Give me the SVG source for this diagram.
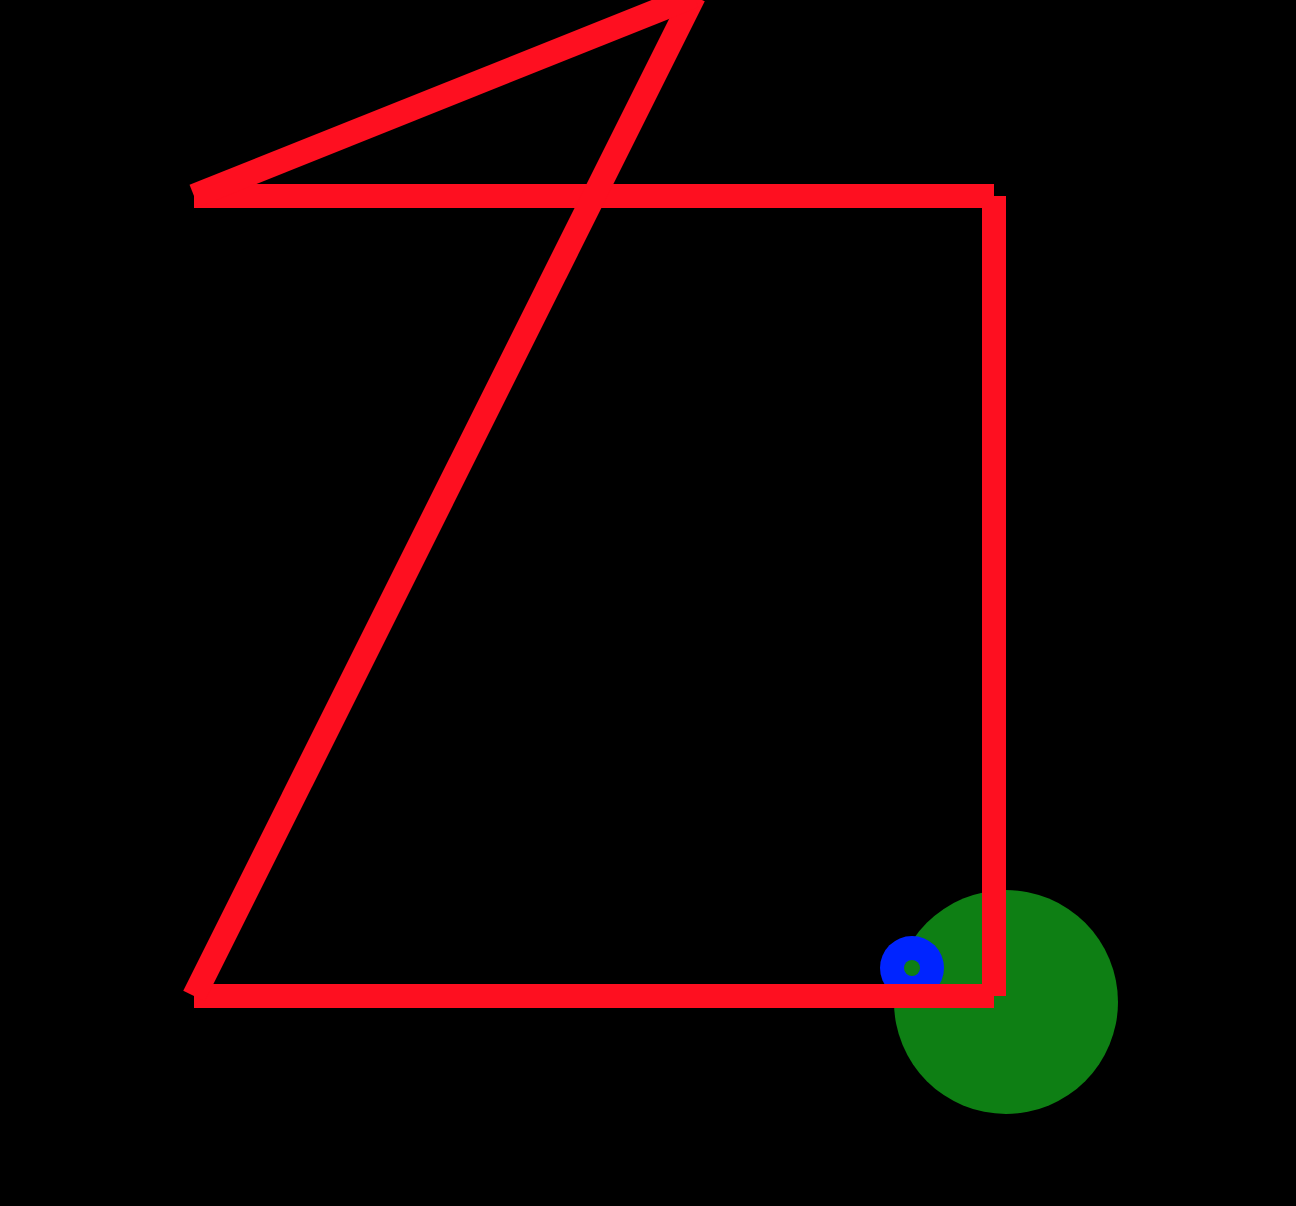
<svg xmlns="http://www.w3.org/2000/svg" width="1296" height="1206" viewBox="0 0 1296 1206">
<style>
.seg{stroke:#fe0f20;stroke-width:24;stroke-linecap:butt;fill:none}
.green{fill:#0e7f14}
</style>
<rect width="1296" height="1206" fill="#000"/>
<g id="circles">
<circle class="green" cx="1006" cy="1002" r="112"/>
<circle cx="912" cy="968" r="32" fill="#0024ff"/>
<circle class="green" cx="912" cy="968" r="8"/>
</g>
<g id="lines">
<line class="seg" x1="194" y1="196" x2="994" y2="196"/>
<line class="seg" x1="994" y1="196" x2="994" y2="996"/>
<line class="seg" x1="994" y1="996" x2="194" y2="996"/>
<line class="seg" x1="194" y1="996" x2="694" y2="-4"/>
<line class="seg" x1="694" y1="-4" x2="194" y2="196"/>
</g>
</svg>
